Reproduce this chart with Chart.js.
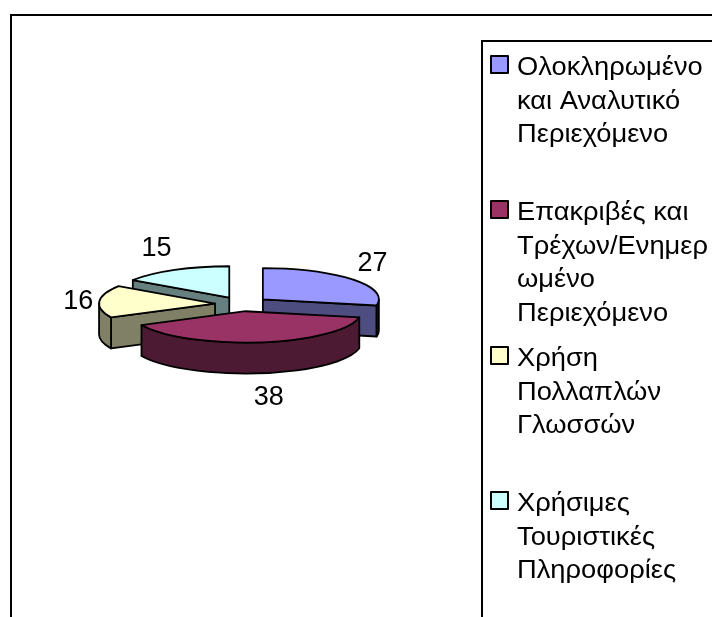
<!DOCTYPE html>
<html lang="el">
<head>
<meta charset="utf-8">
<title>Πίτα</title>
<style>
  html, body { margin: 0; padding: 0; background: #fff; overflow: hidden; }
  canvas { display: block; }
</style>
<script src="https://cdn.jsdelivr.net/npm/chart.js@4/dist/chart.umd.js"></script>
</head>
<body>
<canvas id="pie" width="712" height="617"></canvas>
<script>
// Chart content
const categories = [
  ['Ολοκληρωμένο', 'και Αναλυτικό', 'Περιεχόμενο'],
  ['Επακριβές και', 'Τρέχων/Ενημερ', 'ωμένο', 'Περιεχόμενο'],
  ['Χρήση', 'Πολλαπλών', 'Γλωσσών'],
  ['Χρήσιμες', 'Τουριστικές', 'Πληροφορίες']
];
const values = [27, 38, 16, 15];

// Slice colours: top faces and shaded walls
const topColors = ['#9999FF', '#993366', '#FFFFCC', '#CCFFFF'];
const wallColors = ['#4D4D80', '#4D1A33', '#808066', '#668080'];
const rimColors = ['#1A1A33', '#4D1A33', '#808066', '#668080'];

// Pie projection
const SQUASH = 0.27;
const DEPTH = 31;
const RADIUS = 116;
const EXPLODE = 27;
const PIE_X = 242;
const PIE_Y = 304;
const OUTLINE = 1.8;
const PAINT_ORDER = [3, 0, 2, 1];   // back to front

// Value label offsets from each slice's rim
const labelNudges = [[20, -16], [8, 55], [-21, 0], [-18, -21]];
const FONT = '"Liberation Sans", Arial, sans-serif';
const VALUE_FONT_SIZE = 27;
const LEGEND_FONT_SIZE = 26;
const LEGEND_STRETCH = 1.05;
const LEGEND_LINE = 33.5;
const legendRows = [56, 201, 347, 492];
const legendBaselines = [75, 220, 366, 511];

function sliceGeometry(el) {
  const mid = (el.startAngle + el.endAngle) / 2;
  const r = el.outerRadius;
  return {
    x: el.x + Math.cos(mid) * EXPLODE,
    y: el.y + Math.sin(mid) * EXPLODE * SQUASH,
    r,
    ry: r * SQUASH,
    start: el.startAngle,
    end: el.endAngle,
    mid
  };
}

function paintFace(ctx, fill) {
  ctx.fillStyle = fill;
  ctx.fill();
  ctx.lineWidth = OUTLINE;
  ctx.lineJoin = 'round';
  ctx.strokeStyle = '#000';
  ctx.stroke();
}

function radialWall(ctx, g, angle, fill) {
  const px = g.x + Math.cos(angle) * g.r;
  const py = g.y + Math.sin(angle) * g.ry;
  ctx.beginPath();
  ctx.moveTo(g.x, g.y);
  ctx.lineTo(px, py);
  ctx.lineTo(px, py + DEPTH);
  ctx.lineTo(g.x, g.y + DEPTH);
  ctx.closePath();
  paintFace(ctx, fill);
}

function rimWall(ctx, g, fill) {
  // Only the part of the rim facing the viewer, angles 0..PI after normalising
  const TAU = Math.PI * 2;
  for (const turn of [-TAU, 0, TAU]) {
    const a0 = Math.max(g.start, turn);
    const a1 = Math.min(g.end, turn + Math.PI);
    if (a1 <= a0) continue;
    ctx.beginPath();
    ctx.ellipse(g.x, g.y, g.r, g.ry, 0, a0, a1);
    ctx.ellipse(g.x, g.y + DEPTH, g.r, g.ry, 0, a1, a0, true);
    ctx.closePath();
    paintFace(ctx, fill);
  }
}

const pie3d = {
  id: 'pie3d',
  beforeDatasetDraw(chart, args) {
    const ctx = chart.ctx;
    const arcs = args.meta.data;
    for (const i of PAINT_ORDER) {
      const el = arcs[i];
      const g = sliceGeometry(el);
      if (Math.cos(g.start) < -1e-6) radialWall(ctx, g, g.start, wallColors[i]);
      if (Math.cos(g.end) > 1e-6) radialWall(ctx, g, g.end, wallColors[i]);
      rimWall(ctx, g, rimColors[i]);

      // Top face: the library's arc, moved out along its bisector and flattened
      ctx.save();
      ctx.translate(g.x, g.y);
      ctx.scale(1, SQUASH);
      ctx.translate(-el.x, -el.y);
      el.draw(ctx, chart.chartArea);
      ctx.restore();

      // Outline traced separately so its width stays even after flattening
      ctx.beginPath();
      ctx.moveTo(g.x, g.y);
      ctx.ellipse(g.x, g.y, g.r, g.ry, 0, g.start, g.end);
      ctx.closePath();
      ctx.lineWidth = OUTLINE;
      ctx.lineJoin = 'round';
      ctx.strokeStyle = '#000';
      ctx.stroke();
    }
    return false;
  },
  afterDraw(chart) {
    const ctx = chart.ctx;
    const arcs = chart.getDatasetMeta(0).data;
    ctx.save();
    ctx.fillStyle = '#000';
    ctx.textAlign = 'center';
    ctx.textBaseline = 'middle';
    ctx.font = VALUE_FONT_SIZE + 'px ' + FONT;
    arcs.forEach((el, i) => {
      const g = sliceGeometry(el);
      const x = g.x + Math.cos(g.mid) * g.r + labelNudges[i][0];
      const y = g.y + Math.sin(g.mid) * g.ry + labelNudges[i][1];
      ctx.fillText(String(values[i]), x, y);
    });
    ctx.restore();
  }
};

const framesAndLegend = {
  id: 'framesAndLegend',
  beforeDraw(chart) {
    const ctx = chart.ctx;
    ctx.save();
    ctx.fillStyle = '#fff';
    ctx.fillRect(0, 0, chart.width, chart.height);
    ctx.strokeStyle = '#000';
    ctx.lineWidth = 2;
    ctx.strokeRect(11, 15, 800, 700);
    ctx.strokeRect(482, 41, 400, 700);
    ctx.restore();
  },
  afterDraw(chart) {
    const ctx = chart.ctx;
    ctx.save();
    ctx.textAlign = 'left';
    ctx.textBaseline = 'alphabetic';
    ctx.font = LEGEND_FONT_SIZE + 'px ' + FONT;
    categories.forEach((lines, i) => {
      const top = legendRows[i];
      ctx.fillStyle = topColors[i];
      ctx.fillRect(491, top, 17, 17);
      ctx.strokeStyle = '#000';
      ctx.lineWidth = 2;
      ctx.strokeRect(491, top, 17, 17);
      ctx.fillStyle = '#000';
      lines.forEach((line, n) => {
        ctx.save();
        ctx.translate(517, legendBaselines[i] + n * LEGEND_LINE);
        ctx.scale(LEGEND_STRETCH, 1);
        ctx.fillText(line, 0, 0);
        ctx.restore();
      });
    });
    ctx.restore();
  }
};

new Chart(document.getElementById('pie'), {
  type: 'pie',
  data: {
    labels: categories.map(lines => lines.join(' ')),
    datasets: [{
      data: values,
      backgroundColor: topColors,
      borderWidth: 0,
      radius: RADIUS
    }]
  },
  options: {
    responsive: false,
    animation: false,
    events: [],
    layout: {
      padding: { left: 0, top: 0, right: 712 - PIE_X * 2, bottom: 617 - PIE_Y * 2 }
    },
    plugins: { legend: { display: false }, tooltip: { enabled: false } }
  },
  plugins: [framesAndLegend, pie3d]
});
</script>
</body>
</html>
